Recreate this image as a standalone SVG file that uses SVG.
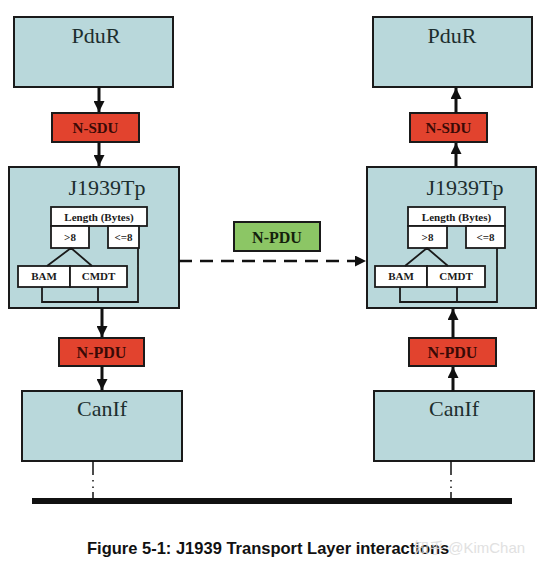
<svg xmlns="http://www.w3.org/2000/svg" width="546" height="570" viewBox="0 0 546 570">
<defs>
<style>
.box{fill:#b9d8db;stroke:#1a1a1a;stroke-width:2}
.red{fill:#e2432e;stroke:#1a1a1a;stroke-width:2}
.green{fill:#8cc665;stroke:#1a1a1a;stroke-width:2}
.wbox{fill:#ffffff;stroke:#1a1a1a;stroke-width:1.8}
.big{font-family:"Liberation Serif","Times New Roman",serif;font-size:22px;fill:#1d2e2e;text-anchor:middle}
.lbl{font-family:"Liberation Serif","Times New Roman",serif;font-size:15px;font-weight:bold;fill:#3a0a06;text-anchor:middle}
.small{font-family:"Liberation Serif","Times New Roman",serif;font-size:11px;font-weight:bold;fill:#1a1a1a;text-anchor:middle}
.wire{fill:none;stroke:#1a1a1a;stroke-width:1.8}
.arr{fill:none;stroke:#111;stroke-width:3}
</style>
<marker id="ah" viewBox="0 0 10 10" refX="10" refY="5" markerWidth="11" markerHeight="11" markerUnits="userSpaceOnUse" orient="auto">
<path d="M0,0 L10,5 L0,10 z" fill="#111"/>
</marker>
</defs>

<g id="pdur-left"><rect class="box" x="14" y="17" width="159" height="70"/><text class="big" x="96" y="43">PduR</text></g>
<g id="nsdu-left"><rect class="red" x="52" y="113" width="87" height="29"/><text class="lbl" x="95.5" y="133">N-SDU</text></g>
<g id="j1939tp-left">
<rect class="box" x="9" y="167" width="170" height="141"/>
<text class="big" x="107" y="195">J1939Tp</text>
<rect class="wbox" x="51" y="207" width="96" height="19"/><text class="small" x="99" y="221">Length (Bytes)</text>
<rect class="wbox" x="51" y="226" width="38" height="22"/><text class="small" x="70" y="241">&gt;8</text>
<rect class="wbox" x="108" y="226" width="31" height="22"/><text class="small" x="123.5" y="241">&lt;=8</text>
<rect class="wbox" x="18" y="266" width="52" height="21"/><text class="small" x="44" y="280">BAM</text>
<rect class="wbox" x="70" y="266" width="57" height="21"/><text class="small" x="98.5" y="280">CMDT</text>
<path class="wire" d="M71,248 L47,266 M71,248 L92,266 M42,287 V302 H138 V248 M98,287 V302"/>
</g>
<g id="npdu-red-left"><rect class="red" x="59" y="338" width="85" height="28"/><text class="lbl" x="101.5" y="358" style="font-size:16px">N-PDU</text></g>
<g id="canif-left"><rect class="box" x="22" y="391" width="160" height="70"/><text class="big" x="102" y="416">CanIf</text></g>

<g id="pdur-right"><rect class="box" x="373" y="17" width="159" height="70"/><text class="big" x="452" y="43">PduR</text></g>
<g id="nsdu-right"><rect class="red" x="410" y="113" width="77" height="29"/><text class="lbl" x="448.5" y="133">N-SDU</text></g>
<g id="j1939tp-right">
<rect class="box" x="367" y="167" width="169" height="141"/>
<text class="big" x="465" y="195">J1939Tp</text>
<rect class="wbox" x="408" y="207" width="97" height="19"/><text class="small" x="456.5" y="221">Length (Bytes)</text>
<rect class="wbox" x="408" y="226" width="39" height="22"/><text class="small" x="427.5" y="241">&gt;8</text>
<rect class="wbox" x="466" y="226" width="39" height="22"/><text class="small" x="485.5" y="241">&lt;=8</text>
<rect class="wbox" x="375" y="266" width="52" height="21"/><text class="small" x="401" y="280">BAM</text>
<rect class="wbox" x="427" y="266" width="58" height="21"/><text class="small" x="456" y="280">CMDT</text>
<path class="wire" d="M427,248 L405,266 M427,248 L448,266 M400,287 V302 H497 V248 M457,287 V302"/>
</g>
<g id="npdu-red-right"><rect class="red" x="409" y="338" width="87" height="28"/><text class="lbl" x="452.5" y="358" style="font-size:16px">N-PDU</text></g>
<g id="canif-right"><rect class="box" x="374" y="391" width="160" height="70"/><text class="big" x="454" y="416">CanIf</text></g>

<g id="npdu-green"><rect class="green" x="234" y="222" width="86" height="29"/><text class="lbl" x="277" y="243" style="font-size:16px;fill:#14200c">N-PDU</text></g>

<g id="bus"><rect x="32" y="498" width="480" height="6" fill="#111"/></g>

<g id="connectors">
<path class="arr" d="M99,87 V112" marker-end="url(#ah)"/>
<path class="arr" d="M99,142 V166" marker-end="url(#ah)"/>
<path class="arr" d="M102,308 V337" marker-end="url(#ah)"/>
<path class="arr" d="M102,366 V390" marker-end="url(#ah)"/>
<path class="arr" d="M456,113 V88" marker-end="url(#ah)"/>
<path class="arr" d="M456,167 V143" marker-end="url(#ah)"/>
<path class="arr" d="M453,338 V309" marker-end="url(#ah)"/>
<path class="arr" d="M453,391 V367" marker-end="url(#ah)"/>
<path d="M179,261 H366" fill="none" stroke="#111" stroke-width="2.5" stroke-dasharray="13 8" marker-end="url(#ah)"/>
<path d="M93,461 V498" fill="none" stroke="#111" stroke-width="1.5" stroke-dasharray="14 5 1.5 5 1.5 4 14"/>
<path d="M451,461 V498" fill="none" stroke="#111" stroke-width="1.5" stroke-dasharray="14 5 1.5 5 1.5 4 14"/>
</g>

<text x="87" y="554" font-family="Liberation Sans, Arial, sans-serif" font-size="16.5" font-weight="bold" fill="#111">Figure 5-1: J1939 Transport Layer interactions</text>
<text x="414" y="553" font-family="Liberation Sans, 'Noto Sans CJK SC', sans-serif" font-size="15" fill="#dcdcdc" opacity="0.85">知乎 @KimChan</text>
</svg>
